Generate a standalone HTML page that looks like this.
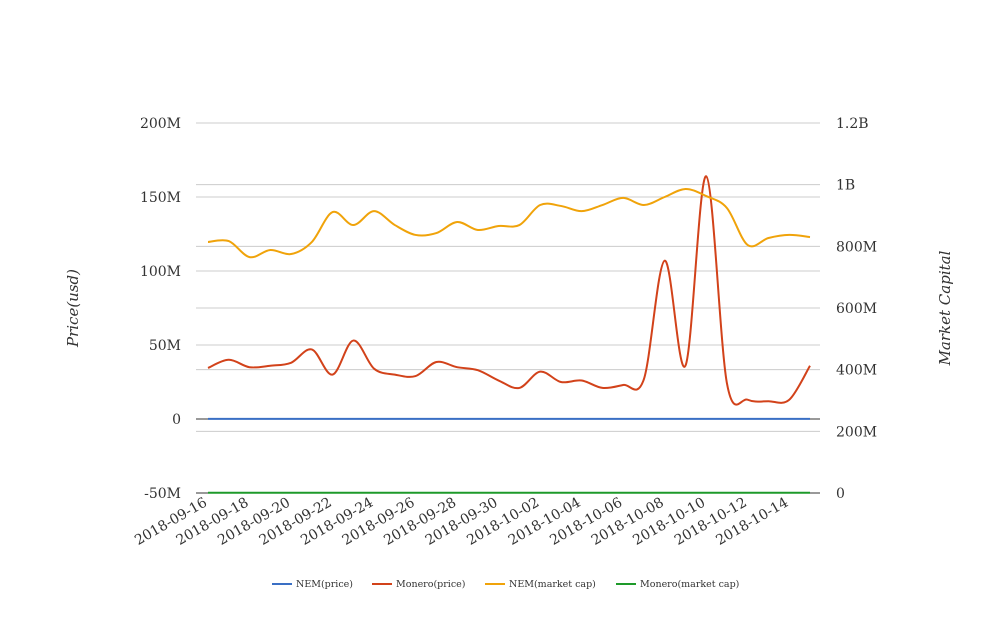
<!DOCTYPE html>
<html><head><meta charset="utf-8"><style>
body{margin:0;background:#fff;}
svg text{font-family:"DejaVu Serif","Liberation Serif",serif;fill:#333;}
</style></head><body>
<svg id="c" width="1008" height="616"></svg>
<script>
const dates=["2018-09-16","2018-09-17","2018-09-18","2018-09-19","2018-09-20","2018-09-21","2018-09-22","2018-09-23","2018-09-24","2018-09-25","2018-09-26","2018-09-27","2018-09-28","2018-09-29","2018-09-30","2018-10-01","2018-10-02","2018-10-03","2018-10-04","2018-10-05","2018-10-06","2018-10-07","2018-10-08","2018-10-09","2018-10-10","2018-10-11","2018-10-12","2018-10-13","2018-10-14","2018-10-15"];
const nemPrice=[0.1,0.1,0.1,0.1,0.1,0.1,0.1,0.1,0.1,0.1,0.1,0.1,0.1,0.1,0.1,0.1,0.1,0.1,0.1,0.1,0.1,0.1,0.1,0.1,0.1,0.1,0.1,0.1,0.1,0.1];
const moneroPrice=[34.5,40,35,36,38,47,30,53,34,30,29,38.5,35,33,26,21,32,25,26,21,23,27,107,36,164,24,13,12,13,36];
const nemCap=[814,817,765,788,775,814,911,869,914,869,837,843,879,853,866,869,934,931,914,934,957,934,960,986,963,924,804,827,837,830];
const moneroCap=[1,1,1,1,1,1,1,1,1,1,1,1,1,1,1,1,1,1,1,1,1,1,1,1,1,1,1,1,1,1];
const leftTicks=[-50,0,50,100,150,200];
const leftLabels=["-50M","0","50M","100M","150M","200M"];
const rightTicks=[0,200,400,600,800,1000,1200];
const rightLabels=["0","200M","400M","600M","800M","1B","1.2B"];
const svg=document.getElementById('c');const NS='http://www.w3.org/2000/svg';
function mk(t,a,p){const e=document.createElementNS(NS,t);for(const k in a)e.setAttribute(k,a[k]);(p||svg).appendChild(e);return e;}
const X0=208,X1=810,T=123,B=493,L=196,R=820;
const x=i=>X0+(X1-X0)*i/(dates.length-1);
const yL=v=>B-(v+50)/250*(B-T);
const yR=v=>B-v/1200*(B-T);
rightTicks.forEach(v=>{const g=mk('line',{x1:L,x2:R,y1:yR(v),y2:yR(v),stroke:'#ccc'});

const t=mk('text',{x:836,y:yR(v)+5,'font-size':14});t.textContent=rightLabels[rightTicks.indexOf(v)];
});
leftTicks.forEach((v,i)=>{const g=mk('line',{x1:L,x2:R,y1:yL(v),y2:yL(v),stroke:v==0||v==-50?'#333':'#ccc'});

const t=mk('text',{x:181,y:yL(v)+5,'font-size':14,'text-anchor':'end'});t.textContent=leftLabels[i];
});
dates.forEach((d,i)=>{if(i%2)return;const t=mk('text',{x:x(i),y:505,'font-size':14,'text-anchor':'end',transform:`rotate(-30 ${x(i)} 505)`});t.textContent=d;
});
function path(vals,yf,col,name){const p=vals.map((v,i)=>[x(i),yf(v)]);let d=`M${p[0][0]},${p[0][1]}`;
for(let i=0;i<p.length-1;i++){const p0=p[Math.max(0,i-1)],p1=p[i],p2=p[i+1],p3=p[Math.min(p.length-1,i+2)];
d+=`C${p1[0]+(p2[0]-p0[0])/6},${p1[1]+(p2[1]-p0[1])/6} ${p2[0]-(p3[0]-p1[0])/6},${p2[1]-(p3[1]-p1[1])/6} ${p2[0]},${p2[1]}`;}
const e=mk('path',{d,fill:'none',stroke:col,'stroke-width':2});}
path(nemPrice,yL,'#3a6fc4','nem-price-line');
path(moneroPrice,yL,'#d2421a','monero-price-line');
path(nemCap,yR,'#f0a30a','nem-market-cap-line');
path(moneroCap,yR,'#1e9a2a','monero-market-cap-line');
let t=mk('text',{x:78,y:308,'font-size':15,'font-style':'italic','text-anchor':'middle',transform:'rotate(-90 78 308)'});t.textContent='Price(usd)';

t=mk('text',{x:950,y:308,'font-size':15,'font-style':'italic','text-anchor':'middle',transform:'rotate(-90 950 308)'});t.textContent='Market Capital';

const leg=[["NEM(price)","#3a6fc4",272],["Monero(price)","#d2421a",372],["NEM(market cap)","#f0a30a",485],["Monero(market cap)","#1e9a2a",616]];
leg.forEach(l=>{const g=mk('g',{});
mk('line',{x1:l[2],x2:l[2]+20,y1:584,y2:584,stroke:l[1],'stroke-width':2},g);
const tt=mk('text',{x:l[2]+24,y:587,'font-size':9.5},g);tt.textContent=l[0];});
</script></body></html>
